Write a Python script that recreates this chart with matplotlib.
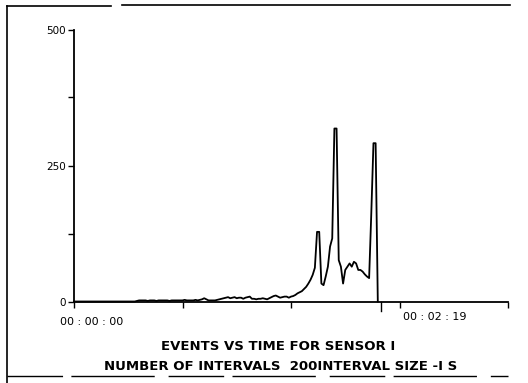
import matplotlib
matplotlib.use("Agg")
import matplotlib.pyplot as plt
from matplotlib.lines import Line2D
import matplotlib.transforms as mtransforms
import numpy as np

# ---- data (events per 1 s interval) ----
counts = [
    0, 0, 0, 0, 0, 0, 0, 0, 0, 0,          # 0-9
    0, 0, 0, 0, 0, 0, 0, 0, 0, 0,          # 10-19
    0, 0, 0, 0, 0, 0, 0, 0, 0, 1,          # 20-29
    2, 2, 2, 2, 1, 2, 2, 2, 1, 2,          # 30-39
    2, 2, 2, 2, 1, 2, 2, 2, 2, 2,          # 40-49
    2, 3, 2, 2, 2, 2, 3, 2, 3, 4,          # 50-59
    6, 4, 2, 2, 2, 2, 3, 4, 5, 6,          # 60-69
    7, 8, 6, 7, 8, 6, 7, 7, 5, 7,          # 70-79
    8, 9, 5, 5, 4, 5, 5, 6, 5, 4,          # 80-89
    6, 8, 10, 11, 9, 7, 8, 9, 9, 7,        # 90-99
    9, 10, 12, 15, 17, 19, 23, 27, 33, 40, # 100-109
    49, 62, 128, 128, 33, 30, 46, 64, 101, 116,  # 110-119
    318, 318, 76, 64, 33, 58, 64, 70, 64, 73,    # 120-129
    70, 58, 58, 55, 50, 46, 43, 162, 291, 291,   # 130-139
    0,                                           # 140
]
y_ticks = [0, 125, 250, 375, 500]
y_tick_labels = ["0", "", "250", "", "500"]
x_ticks = [0, 50, 100, 150, 200]
start_label = "00 : 00 : 00"
end_label = "00 : 02 : 19"
title_lines = ["EVENTS VS TIME FOR SENSOR I",
               "NUMBER OF INTERVALS  200INTERVAL SIZE -I S"]

W, H = 528, 383
fig = plt.figure(figsize=(W / 100, H / 100), dpi=100)
fig.patch.set_facecolor("white")

# axes placed in pixel geometry of the reference
x0, x1 = 74, 508
y0, y1 = 301.5, 29.5
ax = fig.add_axes([x0 / W, 1 - y0 / H, (x1 - x0) / W, (y0 - y1) / H])

xs = np.arange(len(counts))
ax.plot(xs, counts, color="black", lw=1.3, clip_on=False)

ax.set_xlim(0, 200)
ax.set_ylim(0, 500)
for s in ["top", "right"]:
    ax.spines[s].set_visible(False)
for s in ["left", "bottom"]:
    ax.spines[s].set_linewidth(1.3)
    ax.spines[s].set_color("black")

ax.set_yticks(y_ticks)
ax.set_yticklabels(y_tick_labels, fontsize=7.5, family="DejaVu Sans")
ax.set_xticks(x_ticks)
ax.set_xticklabels([])
ax.tick_params(axis="both", direction="out", length=4, width=1.0,
               colors="black", pad=2)

# longer marker tick at end of recorded data
trans = mtransforms.blended_transform_factory(ax.transData, ax.transAxes)
ax.add_line(Line2D([141.5, 141.5], [0, -0.035], transform=trans,
                   color="black", lw=1.0, clip_on=False))

# time labels
fig.text(60 / W, 1 - 322 / H, start_label, fontsize=8, ha="left",
         va="center", family="DejaVu Sans")
fig.text(403 / W, 1 - 317 / H, end_label, fontsize=8, ha="left",
         va="center", family="DejaVu Sans")

# caption lines
fig.text(278 / W, 1 - 346 / H, title_lines[0], fontsize=9.5, ha="center",
         va="center", family="DejaVu Sans", fontweight="bold")
fig.text(281 / W, 1 - 366 / H, title_lines[1], fontsize=9.5, ha="center",
         va="center", family="DejaVu Sans", fontweight="bold")

# photocopy page frame
def pline(xa, ya, xb, yb, **kw):
    fig.add_artist(Line2D([xa / W, xb / W], [1 - ya / H, 1 - yb / H],
                          transform=fig.transFigure, color="black", **kw))

pline(7, 6, 7, 383, lw=1.2)
pline(7, 6, 111, 6, lw=1.2)
pline(122, 5, 510, 5, lw=1.2)
pline(7, 376, 508, 376, lw=1.0, linestyle=(0, (40, 6, 60, 10)))

fig.savefig("out.png", dpi=100, facecolor="white")
